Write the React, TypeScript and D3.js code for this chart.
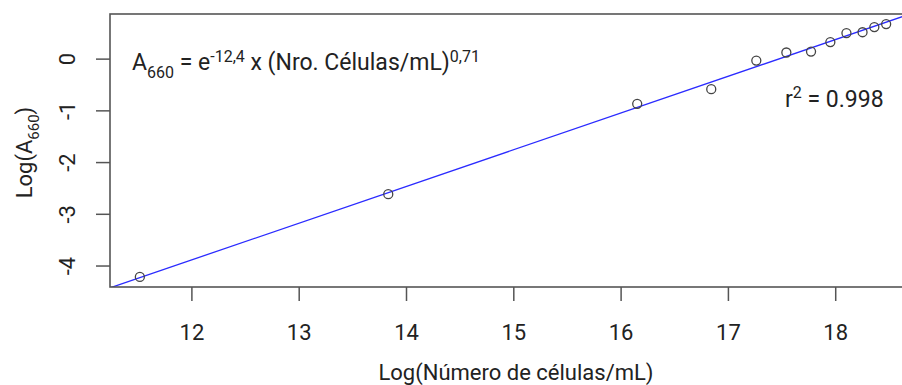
import React from "react";
import * as d3 from "d3";

// Log(cell count / mL) vs Log(A660)
const logCells = [11.515, 13.83, 16.15, 16.84, 17.26, 17.54, 17.77, 17.95, 18.1, 18.25, 18.36, 18.47];
const logAbs = [-4.21, -2.61, -0.865, -0.58, -0.027, 0.128, 0.147, 0.33, 0.503, 0.52, 0.62, 0.677];
const xTicks = [12, 13, 14, 15, 16, 17, 18];
const yTicks = [0, -1, -2, -3, -4];
// fitted model: ln(A660) = intercept + slope * ln(N)
const intercept = -12.4;
const slope = 0.71;
const rSquared = "0.998";

const W = 902;
const H = 385;
const plot = { left: 110, top: 14, right: 916, bottom: 287 };
const FONT = "Roboto, 'Liberation Sans', Arial, sans-serif";
const TEXT = "#222";
const AXIS = "#555";
const FS = 22;
const FS_NOTE = 23;
const FS_SMALL = 16;

function padded(vals: number[]): [number, number] {
  const [lo, hi] = d3.extent(vals) as [number, number];
  const p = (hi - lo) * 0.04;
  return [lo - p, hi + p];
}

export default function App() {
  const x = d3.scaleLinear().domain(padded(logCells)).range([plot.left, plot.right]);
  const y = d3.scaleLinear().domain(padded(logAbs)).range([plot.bottom, plot.top]);
  const [x0, x1] = x.domain();
  const fitLine = d3
    .line<number>()
    .x((v) => x(v))
    .y((v) => y(intercept + slope * v))([x0 - 1, x1 + 1]);

  return (
    <svg
      width={W}
      height={H}
      style={{ position: "absolute", left: 0, top: 0, background: "#fff" }}
      fontFamily={FONT}
    >
      <defs>
        <clipPath id="plot-area">
          <rect x={plot.left} y={plot.top} width={plot.right - plot.left} height={plot.bottom - plot.top} />
        </clipPath>
      </defs>

      {/* regression line */}
      <path d={fitLine ?? ""} fill="none" stroke="#2b2bff" strokeWidth={1.3} clipPath="url(#plot-area)" />

      {/* observations */}
      {logCells.map((v, i) => (
        <circle key={i} cx={x(v)} cy={y(logAbs[i])} r={4.5} fill="none" stroke="#444" strokeWidth={1.3} />
      ))}

      {/* frame */}
      <rect
        x={plot.left}
        y={plot.top}
        width={plot.right - plot.left}
        height={plot.bottom - plot.top}
        fill="none"
        stroke={AXIS}
        strokeWidth={1.6}
      />

      {/* x axis */}
      {xTicks.map((t) => (
        <g key={t}>
          <line x1={x(t)} x2={x(t)} y1={plot.bottom} y2={plot.bottom + 14} stroke={AXIS} strokeWidth={1.5} />
          <text x={x(t)} y={340} textAnchor="middle" fontSize={FS} fill={TEXT}>
            {t}
          </text>
        </g>
      ))}
      <text x={516} y={380} textAnchor="middle" fontSize={FS} fill={TEXT}>
        Log(Número de células/mL)
      </text>

      {/* y axis */}
      {yTicks.map((t) => (
        <g key={t}>
          <line x1={plot.left - 14} x2={plot.left} y1={y(t)} y2={y(t)} stroke={AXIS} strokeWidth={1.5} />
          <text
            transform={`translate(75,${y(t)}) rotate(-90)`}
            textAnchor="middle"
            fontSize={FS}
            fill={TEXT}
          >
            {t === 0 ? "0" : `-${Math.abs(t)}`}
          </text>
        </g>
      ))}
      <text transform={`translate(32,${(plot.top + plot.bottom) / 2 + 2}) rotate(-90)`} textAnchor="middle" fontSize={FS} fill={TEXT}>
        Log(A
        <tspan fontSize={15} dy={7}>660</tspan>
        <tspan dy={-7}>)</tspan>
      </text>

      {/* equation */}
      <text x={132} y={70} fontSize={FS_NOTE} fill={TEXT}>
        A<tspan fontSize={FS_SMALL} dy={8}>660</tspan>
        <tspan dy={-8}> = e</tspan>
        <tspan fontSize={FS_SMALL} dy={-8}>-12,4</tspan>
        <tspan dy={8}> x (Nro. Células/mL)</tspan>
        <tspan fontSize={FS_SMALL} dy={-8}>0,71</tspan>
      </text>

      {/* r squared */}
      <text x={785} y={107} fontSize={FS_NOTE} fill={TEXT}>
        r<tspan fontSize={FS_SMALL} dy={-9}>2</tspan>
        <tspan dy={9}> = {rSquared}</tspan>
      </text>
    </svg>
  );
}
